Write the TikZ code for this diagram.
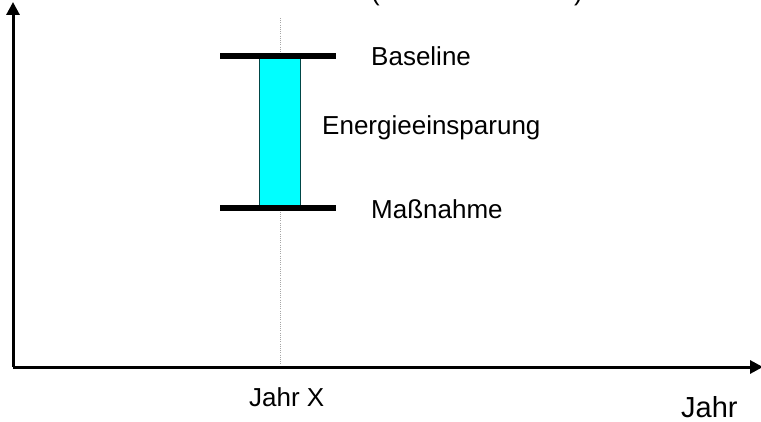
\documentclass[tikz,border=0pt]{standalone}
\usepackage{fontspec}
\setmainfont{Liberation Sans}
\usetikzlibrary{arrows.meta}
\definecolor{barfill}{RGB}{0,255,255}
\definecolor{baredge}{RGB}{0,70,70}
\tikzset{
  axis/.style={line width=3pt, -{Triangle[length=13pt,width=13pt]}},
  level/.style={line width=6pt},
  guide/.style={gray!70, line width=0.6pt, dash pattern=on 1pt off 1.2pt},
  lbl/.style={inner sep=0pt, anchor=base west, font=\fontsize{26}{30}\selectfont},
  biglbl/.style={inner sep=0pt, anchor=base west, font=\fontsize{29}{33}\selectfont},
}
\begin{document}
\begin{tikzpicture}[x=1pt,y=-1pt]
\useasboundingbox (0,0) rectangle (761,422);
\clip (0,0) rectangle (761,422);

% axes
\coordinate (origin) at (13,367);
\coordinate (ytip) at (13,2);
\coordinate (xtip) at (763,367);
\draw[axis] (origin) -- (ytip);
\draw[axis] (origin) -- (xtip);

% year marker
\coordinate (guidetop) at (280,18);
\coordinate (guidebot) at (280,365);
\draw[guide] (guidetop) -- (guidebot);

% saving bar between the two levels
\node[draw=baredge, fill=barfill, line width=0.8pt, inner sep=0pt,
      minimum width=41pt, minimum height=152pt] (saving) at (280,132) {};
\coordinate (baseL) at (220,56);
\coordinate (baseR) at (336,56);
\coordinate (measL) at (220,208);
\coordinate (measR) at (336,208);
\draw[level] (baseL) -- (baseR);
\draw[level] (measL) -- (measR);

% labels
\node[lbl] (lbase) at (371,66) {Baseline};
\node[lbl] (lsave) at (322,134.5) {Energieeinsparung};
\node[lbl] (lmeas) at (371,218.5) {Maßnahme};
\node[lbl] (lyear) at (249,406.5) {Jahr X};
\node[biglbl] (laxis) at (681,417.5) {Jahr};

% axis title, cut by the top edge
\node[lbl] (lopen) at (371,1) {(};
\node[lbl] (lclose) at (574,1) {)};
\end{tikzpicture}
\end{document}
